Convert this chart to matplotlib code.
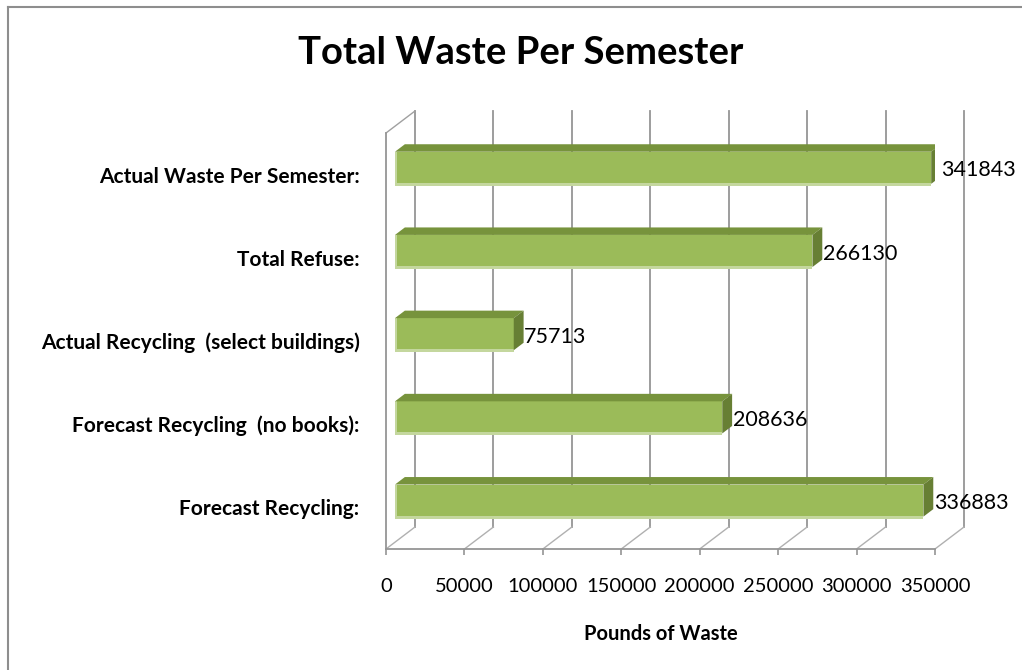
import matplotlib
matplotlib.use("Agg")
import matplotlib.pyplot as plt
from matplotlib.lines import Line2D

plt.rcParams['font.family'] = ['Lato', 'DejaVu Sans']

# data (bottom to top)
categories = ['Forecast Recycling:', 'Forecast Recycling  (no books):',
              'Actual Recycling  (select buildings)', 'Total Refuse:',
              'Actual Waste Per Semester:']
values = [336883, 208636, 75713, 266130, 341843]
xticks = [0, 50000, 100000, 150000, 200000, 250000, 300000, 350000]
xmax = 350000

W, H = 1022, 670
fig = plt.figure(figsize=(W / 100, H / 100), dpi=100)

# front plane of the 3d box in pixels
left_px, right_px, top_px, bot_px = 386, 935, 133, 549
ax = fig.add_axes([left_px / W, 1 - bot_px / H,
                   (right_px - left_px) / W, (bot_px - top_px) / H])
ax.set_xlim(0, xmax)
ax.set_ylim(-0.5, len(categories) - 0.5)

# depth of the box in data units
ux = xmax / (right_px - left_px)
uy = len(categories) / (bot_px - top_px)
DX = 29 * ux
DY = 22 * uy
f0, f1 = 0.31, 0.65   # bar front / back depth fraction
h = 0.193             # half bar height

grid_c = '#959595'
ytop = len(categories) - 0.5

# back wall gridlines and floor diagonals
for v in xticks:
    ax.plot([v + DX, v + DX], [-0.5 + DY, ytop + DY], color=grid_c, lw=1.3,
            clip_on=False, zorder=1)
    ax.plot([v, v + DX], [-0.5, -0.5 + DY], color='#b0b0b0', lw=1.0,
            clip_on=False, zorder=1)
# side wall top edge
ax.plot([0, DX], [ytop, ytop + DY], color='#a0a0a0', lw=1.0, clip_on=False, zorder=1)

# 3d bars
for i, v in enumerate(values):
    x0, x1 = f0 * DX, v + f0 * DX
    y0, y1 = i - h + f0 * DY, i + h + f0 * DY
    ax.fill([x0, x1, x1, x0], [y0, y0, y1, y1], color='#9bbb59', lw=0, zorder=3)
    # light bevel edges
    ax.fill([x0, x1, x1, x0], [y0 - 2 * uy, y0 - 2 * uy, y0 + 1 * uy, y0 + 1 * uy],
            color='#c4d79e', lw=0, zorder=3)
    ax.fill([x0, x0 + 2 * ux, x0 + 2 * ux, x0], [y0, y0, y1, y1],
            color='#c4d79e', lw=0, zorder=3)
    # top face
    ax.fill([x0, x1, v + f1 * DX, f1 * DX],
            [y1, y1, i + h + f1 * DY, i + h + f1 * DY],
            color='#77933c', lw=0, zorder=3)
    # end face
    ax.fill([x1, x1, v + f1 * DX, v + f1 * DX],
            [y0, y1, i + h + f1 * DY, i - h + f1 * DY],
            color='#677f34', lw=0, zorder=3)
    ax.text(v + f1 * DX + 0.5 * ux, i + 0.05, str(v), ha='left', va='center',
            fontsize=15.5, color='black', zorder=4, clip_on=False)

# axes styling
for s in ['top', 'right']:
    ax.spines[s].set_visible(False)
ax.spines['bottom'].set_color(grid_c)
ax.spines['bottom'].set_linewidth(1.3)
ax.spines['left'].set_color(grid_c)
ax.spines['left'].set_linewidth(1.3)
ax.set_xticks(xticks)
ax.set_xticklabels([str(t) for t in xticks], fontsize=14.5)
ax.tick_params(axis='x', length=4, width=1.2, color=grid_c, pad=17)
ax.set_yticks(range(len(categories)))
ax.set_yticklabels(categories, fontsize=15, fontweight='bold')
ax.tick_params(axis='y', length=0, pad=19)
ax.set_facecolor('none')

ax.set_xlabel('Pounds of Waste', fontsize=14.5, fontweight='bold', labelpad=21)
fig.text(521 / W, 1 - 53 / H, 'Total Waste Per Semester', ha='center', va='center',
         fontsize=27.5, fontweight='bold')

# chart frame
fig.add_artist(Line2D([8 / W, 8 / W], [0, 1 - 7 / H], color='#8e8e8e', lw=1.5))
fig.add_artist(Line2D([8 / W, 1], [1 - 7 / H, 1 - 7 / H], color='#8e8e8e', lw=1.5))

fig.savefig('out.png', dpi=100)
